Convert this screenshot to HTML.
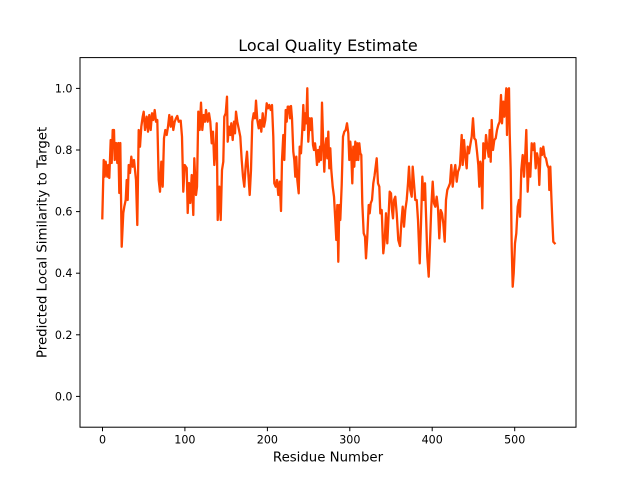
<!DOCTYPE html>
<html><head><meta charset="utf-8"><style>
html,body{margin:0;padding:0;background:#fff;}
svg{display:block;}
text{font-family:"DejaVu Sans","Liberation Sans",sans-serif;fill:#000;}
</style></head><body>
<svg width="640" height="480" viewBox="0 0 640 480" xmlns="http://www.w3.org/2000/svg">
<rect x="0" y="0" width="640" height="480" fill="#fff"/>
<defs><clipPath id="c"><rect x="80" y="57.6" width="496" height="369.6"/></clipPath></defs>
<polyline clip-path="url(#c)" fill="none" stroke="#ff4500" stroke-width="2.3" stroke-linejoin="round" stroke-linecap="square" points="
102.3,218.3 103.7,160 104.7,176.7 105.7,161.7 107.3,176.7 108.3,165 109.3,178 110.7,140 111.7,163 112.7,130 114,130 114.7,160 116,143 117.3,163 118.3,143 119.3,193 120.3,143 121.7,246.7 123.3,213 124.3,206.7 125.7,200 126.7,180 127.7,200 128.7,165 130,173 131.3,156.7 132.7,166.7 134,160 136,180 137.3,225 138.7,130 140,146.7 141.3,126.7 142.7,116.7 143.7,111.7 145,130 146.7,116.7 148,131.7 149.3,115 150.7,130 152,113.3 153.3,120 154.7,110 156,121.7 157.3,120 158.7,180 160,191.7 161.3,161.7 162.7,186.7 164,138.3 165.3,130 166.7,135 168,126.7 169.3,115 170.7,126.7 172,116.7 173.3,130 174.7,121.7 176,118.3 177.3,116 178.7,121.7 180.7,120.7 182,136.7 183.3,191.7 184.7,165
186.7,168 187.7,213 189,183 190.3,203 191.7,175 193.3,215 194.3,158.3 196,195 197,186.7 198.3,111.7 199.7,130 201,102.7 202.3,130 203.7,115 205,121.7 206,110 207.7,121.7 209,113.3 210.3,121.7 211.7,143.3 213,131.7 214.3,165 215.7,146.7 216.7,123.3 217.7,220 219.3,186.7 220.7,220 222,170 223.3,161.7 224.3,116.7 225.7,113.3 227,96.7 227.7,141.7 229,126.7 230.3,135 231.3,123.3 232.7,140 234,121.7 235,133.3 236,111.7 237.3,121.7 239,130 240.3,136.7 241.7,160 243,176.7 244.3,186.7 245.7,165 247,151.7 248.3,173.3 249.7,195 251,170 252.3,121.7 253.7,113.3 255,118.3 256,100.7 257.3,120 258.7,128.3 260,120 261.3,131.7 262.7,113.3 264,126.7 265.3,120 266.7,103.3 268,108.3 269.3,105 270.7,110 272,105 273.3,136.7 274.3,183.3 275.7,186.7 277,180 278.3,195 279.7,181.7 281,211 282,160
283.3,135 284.3,160 285.7,110 286.7,121.7 287.7,106.7 289,106.7 290,118.3 291,106 292,118.3 293.3,151.7 294.3,160 295.3,176.7 296.3,156.7 297.3,180 298.7,193.3 299.7,146.7 301,153.3 302.3,130 303.3,105 304.3,130 305.3,113.3 306.3,123.3 307.3,88.3 308.3,141.7 309.7,118.3 310.7,130 311.7,118.3 313,145 314,150 315,143.3 316,151.7 317,165 318,150 319,161.7 320,146.7 321,160 322,102.7 323.3,146.7 324.3,171.7 325.3,146.7 326.3,138.3 327.3,158.3 328.3,131.7 329.3,168.3 330.3,148.3 331.3,170 332.7,186.7 334,196.7 335.3,220 336.3,240 337.3,205 338.3,261.7 339.3,205 340.3,220 341.7,185 343,136.7 344.3,131.7 345.7,130 347,123.3 348.3,133.3 349.3,160 350.3,141.7 351.3,155 352.3,183.3 353.3,146.7 354.3,166.7 355.3,141.7 356.3,160 357.3,143.3 358.3,160 359.3,143.3 360.3,153.3 361.3,155 362.3,203.3 363.7,233.3 365,236.7 366,258.3 367.3,236.7 368.7,205 369.7,213.3 370.7,203.3 372,200 373.3,183.3 374.5,176 376.7,158.3
378,183.3 379.3,186.7 380.3,213.3 381.7,210 383.3,253.3 384.7,240 386,213.3 387.3,243.3 388.7,213.3 389.7,191.7 391,193.3 392,210 393,218.3 394,200 395.3,196.7 396.7,213.3 398.3,240 400,246 401.3,223.3 402.7,206.7 404,226.7 405.3,210 406.7,200 408,183.3 409,166.7 410.3,190 411.7,196.7 412.7,166.7 414,183.3 415.3,200 416.7,200 418,220 419.7,263.3 421,223.3 422.3,176.7 423.7,200 425,183.3 426.3,223.3 427.3,256.7 428.7,276.7 430,243.3 431.3,206.7 432.7,181.7 434,203.3 435.3,206.7 436.7,196.7 438,208.3 439.3,238.3 440.7,210 442,213.3 443.3,223.3 444.7,241.7 446,200 447.3,190 448.7,186.7 450,183.3 451.3,165 452.7,186.7 454,173.3 455.3,165 456.7,181.7 458,171.7 459.3,168.3
460,165 461.7,135 462.7,165 464,140 465.3,156.7 466.7,168.3 467.7,146.7 469,153.3 470.3,145 471.7,136.7 473,118.3 474.3,138.3 475.7,140 477,151.7 478.3,165 479.3,186.7 480.3,161.7 481.3,166.7 482.3,208.3 483.3,143.3 484.7,158.3 486,135 487.3,146.7 488.7,156.7 489.7,130 490.7,161.7 491.7,120 493,150 494.3,140 495.7,138.3 497,130 498.3,125 499.7,121.7 501,95 502,123.3 503.3,101.7 504.3,116.7 505.3,103.3 506.3,88.3 507,135 508,90 509,88.3 509.7,133.3 510.7,170 511.7,246.7 512.7,286.7 513.7,273.3 515,243.3 516.3,233.3 517.7,206.7 519,200 520,216.7 521.3,170 522.7,155 524,176.7 525.3,153.3 526.3,130 527.7,191.7 529,163.3 530.3,176.7 531.7,143.3 533,150 534.3,143.3 535.7,168.3 537,153.3 538.3,160 539.3,185 540.7,148.3 542,155 543.3,146.7 544.7,156.7 546,158.3 547.3,165 548.7,168.3 549.3,190 550.3,166.7 551.3,195 552.3,220 553.3,241.7 554.7,243.3"/>
<rect x="80" y="57.6" width="496" height="369.6" fill="none" stroke="#000" stroke-width="1"/>
<g stroke="#000" stroke-width="1">
<line x1="102.5" y1="427.2" x2="102.5" y2="431.2"/>
<line x1="184.9" y1="427.2" x2="184.9" y2="431.2"/>
<line x1="267.4" y1="427.2" x2="267.4" y2="431.2"/>
<line x1="349.8" y1="427.2" x2="349.8" y2="431.2"/>
<line x1="432.2" y1="427.2" x2="432.2" y2="431.2"/>
<line x1="514.7" y1="427.2" x2="514.7" y2="431.2"/>
<line x1="76" y1="396.4" x2="80" y2="396.4"/>
<line x1="76" y1="334.8" x2="80" y2="334.8"/>
<line x1="76" y1="273.2" x2="80" y2="273.2"/>
<line x1="76" y1="211.6" x2="80" y2="211.6"/>
<line x1="76" y1="150" x2="80" y2="150"/>
<line x1="76" y1="88.4" x2="80" y2="88.4"/>
</g>
<g font-size="11.1" text-anchor="middle">
<text x="102.5" y="443.5">0</text>
<text x="184.9" y="443.5">100</text>
<text x="267.4" y="443.5">200</text>
<text x="349.8" y="443.5">300</text>
<text x="432.2" y="443.5">400</text>
<text x="514.7" y="443.5">500</text>
</g>
<g font-size="11.1" text-anchor="end">
<text x="72.5" y="400.4">0.0</text>
<text x="72.5" y="338.8">0.2</text>
<text x="72.5" y="277.2">0.4</text>
<text x="72.5" y="215.6">0.6</text>
<text x="72.5" y="154">0.8</text>
<text x="72.5" y="92.4">1.0</text>
</g>
<text x="328" y="461.5" font-size="13.3" text-anchor="middle">Residue Number</text>
<text transform="translate(46.5,242.4) rotate(-90)" x="0" y="0" font-size="13.3" text-anchor="middle">Predicted Local Similarity to Target</text>
<text x="328" y="51" font-size="16" text-anchor="middle">Local Quality Estimate</text>
</svg>
</body></html>
